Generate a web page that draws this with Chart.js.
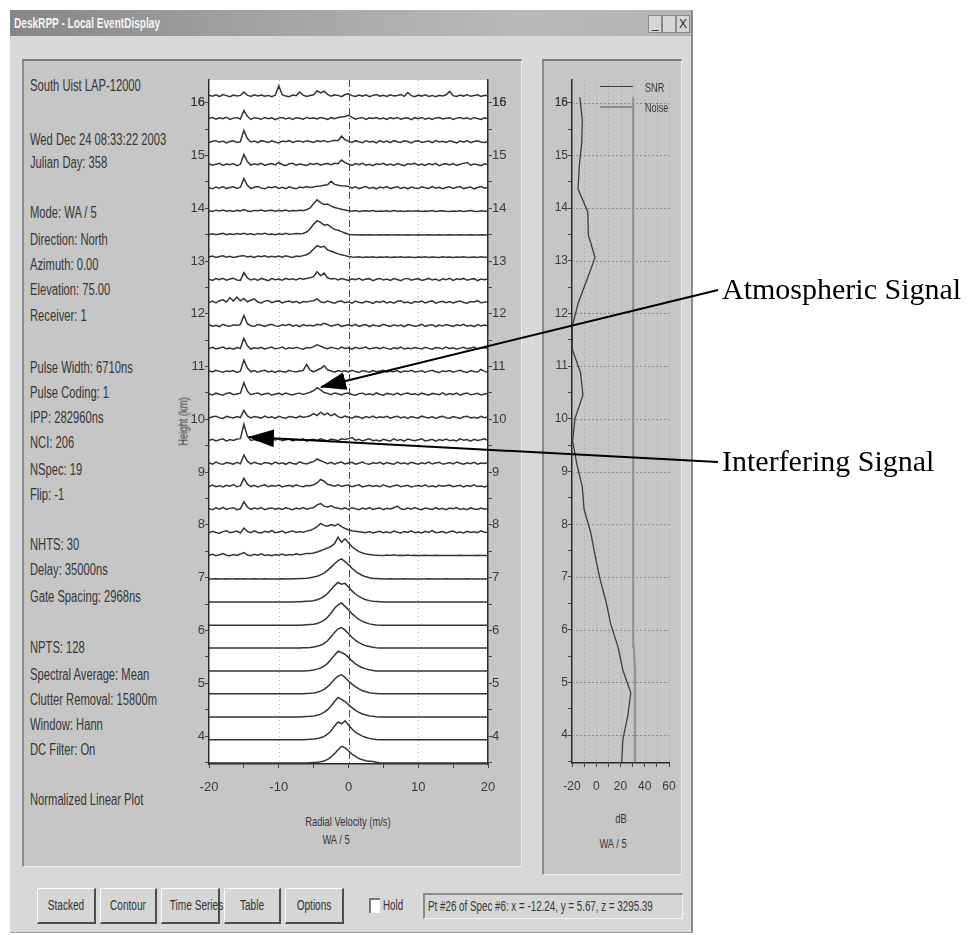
<!DOCTYPE html>
<html>
<head>
<meta charset="utf-8">
<script src="https://cdn.jsdelivr.net/npm/chart.js@4.4.0/dist/chart.umd.min.js"></script>
<style>
body{margin:0;width:980px;height:935px;background:#fff;position:relative;overflow:hidden;font-family:'Liberation Sans',Arial,sans-serif;}
.abs{position:absolute;}
.win{left:10px;top:10px;width:681px;height:922px;background:#d8d8d8;border-right:2px solid #8c8c8c;border-bottom:1px solid #a0a0a0;}
.title{left:10px;top:10px;width:681px;height:26px;background:linear-gradient(to right,#868686,#a2a2a2 35%,#bababa 75%,#b4b4b4);}
.title span{position:absolute;left:4px;top:5px;color:#f4f4f4;font-size:14px;font-weight:bold;white-space:nowrap;transform:scaleX(.72);transform-origin:0 50%;}
.ctl{top:15px;width:12px;height:16px;background:#d6d6d6;border:1px solid #8a8a8a;font-size:12px;line-height:16px;text-align:center;color:#222;}
.panel{background:#c6c6c6;border-top:2px solid #7c7c7c;border-left:2px solid #8a8a8a;border-right:1px solid #efefef;border-bottom:1px solid #efefef;box-sizing:border-box;}
.t{position:absolute;white-space:nowrap;color:#363636;font-size:16px;line-height:18px;transform:scaleX(.7);transform-origin:0 50%;}
.c{position:absolute;white-space:nowrap;color:#363636;text-align:center;transform:scaleX(.72);transform-origin:50% 50%;}
.btn{position:absolute;top:888px;height:36px;background:#d6d6d6;border-top:1px solid #fbfbfb;border-left:1px solid #fbfbfb;border-right:2px solid #4e4e4e;border-bottom:2px solid #4e4e4e;box-sizing:border-box;}
.btn span{display:block;text-align:center;line-height:33px;font-size:14px;color:#333;white-space:nowrap;transform:scaleX(.72);}
canvas{position:absolute;}
.note{position:absolute;font-family:'Liberation Serif','Times New Roman',serif;font-size:30px;color:#000;white-space:nowrap;}
</style>
</head>
<body>
<div class="abs win"></div>
<div class="abs title"><span>DeskRPP - Local EventDisplay</span></div>
<div class="abs ctl" style="left:648px">_</div>
<div class="abs ctl" style="left:662px"></div>
<div class="abs ctl" style="left:676px">X</div>

<div class="abs panel" style="left:22px;top:59px;width:500px;height:808px"></div>
<div class="abs panel" style="left:542px;top:59px;width:140px;height:816px"></div>

<div class="t" style="left:30px;top:77px">South Uist LAP-12000</div>
<div class="t" style="left:30px;top:131px">Wed Dec 24 08:33:22 2003</div>
<div class="t" style="left:30px;top:154px">Julian Day: 358</div>
<div class="t" style="left:30px;top:204px">Mode: WA / 5</div>
<div class="t" style="left:30px;top:231px">Direction: North</div>
<div class="t" style="left:30px;top:256px">Azimuth: 0.00</div>
<div class="t" style="left:30px;top:281px">Elevation: 75.00</div>
<div class="t" style="left:30px;top:307px">Receiver: 1</div>
<div class="t" style="left:30px;top:359px">Pulse Width: 6710ns</div>
<div class="t" style="left:30px;top:384px">Pulse Coding: 1</div>
<div class="t" style="left:30px;top:409px">IPP: 282960ns</div>
<div class="t" style="left:30px;top:434px">NCI: 206</div>
<div class="t" style="left:30px;top:461px">NSpec: 19</div>
<div class="t" style="left:30px;top:486px">Flip: -1</div>
<div class="t" style="left:30px;top:536px">NHTS: 30</div>
<div class="t" style="left:30px;top:561px">Delay: 35000ns</div>
<div class="t" style="left:30px;top:588px">Gate Spacing: 2968ns</div>
<div class="t" style="left:30px;top:639px">NPTS: 128</div>
<div class="t" style="left:30px;top:666px">Spectral Average: Mean</div>
<div class="t" style="left:30px;top:691px">Clutter Removal: 15800m</div>
<div class="t" style="left:30px;top:716px">Window: Hann</div>
<div class="t" style="left:30px;top:741px">DC Filter: On</div>
<div class="t" style="left:30px;top:791px">Normalized Linear Plot</div>

<canvas id="stack" width="340" height="730" style="left:170px;top:70px"></canvas>
<canvas id="snr" width="150" height="730" style="left:540px;top:70px"></canvas>

<div class="c" style="left:123px;top:414px;width:120px;font-size:13px;transform:rotate(-90deg) scaleX(.72)">Height (km)</div>
<div class="c" style="left:248px;top:814px;width:200px;font-size:13px">Radial Velocity (m/s)</div>
<div class="c" style="left:286px;top:832px;width:100px;font-size:13px">WA / 5</div>
<div class="c" style="left:571px;top:811px;width:100px;font-size:13px">dB</div>
<div class="c" style="left:563px;top:836px;width:100px;font-size:13px">WA / 5</div>

<div class="abs" style="left:600px;top:86px;width:33px;border-top:1.5px solid #3c3c3c"></div>
<div class="abs" style="left:600px;top:106px;width:33px;border-top:2px solid #8c8c8c"></div>
<div class="t" style="left:645px;top:79px;font-size:13px">SNR</div>
<div class="t" style="left:645px;top:99px;font-size:13px">Noise</div>

<div class="btn" style="left:37px;width:59px"><span>Stacked</span></div>
<div class="btn" style="left:100px;width:57px"><span>Contour</span></div>
<div class="btn" style="left:161px;width:59px"><span>Time Series</span></div>
<div class="btn" style="left:224px;width:57px"><span>Table</span></div>
<div class="btn" style="left:285px;width:59px"><span>Options</span></div>
<div class="abs" style="left:369px;top:898px;width:9px;height:13px;background:#fff;border-top:2px solid #777;border-left:2px solid #777"></div>
<div class="t" style="left:383px;top:896px;font-size:14px">Hold</div>
<div class="abs" style="left:423px;top:893px;width:260px;height:26px;background:#d6d6d6;border-top:2px solid #8a8a8a;border-left:2px solid #8a8a8a;border-right:1px solid #f4f4f4;border-bottom:1px solid #f4f4f4;box-sizing:border-box"></div>
<div class="t" style="left:428px;top:897px;font-size:14px">Pt #26 of Spec #6: x = -12.24, y = 5.67, z = 3295.39</div>

<svg class="abs" style="left:0;top:0" width="980" height="935">
  <defs>
    <marker id="head" markerUnits="userSpaceOnUse" markerWidth="26" markerHeight="18" refX="25" refY="9" orient="auto">
      <path d="M0,0 L26,9 L0,18 z" fill="#000"/>
    </marker>
  </defs>
  <line x1="718" y1="290" x2="321" y2="387" stroke="#000" stroke-width="2" marker-end="url(#head)"/>
  <line x1="718" y1="462" x2="249" y2="437" stroke="#000" stroke-width="2" marker-end="url(#head)"/>
</svg>
<div class="note" style="left:722px;top:272px">Atmospheric Signal</div>
<div class="note" style="left:722px;top:444px">Interfering Signal</div>

<script>
// radial velocity bins (m/s)
const velocities = [-20,-19.5,-19,-18.5,-18,-17.5,-17,-16.5,-16,-15.5,
  -15,-14.5,-14,-13.5,-13,-12.5,-12,-11.5,-11,-10.5,
  -10,-9.5,-9,-8.5,-8,-7.5,-7,-6.5,-6,-5.5,
  -5,-4.5,-4,-3.5,-3,-2.5,-2,-1.5,-1,-0.5,
  0,0.5,1,1.5,2,2.5,3,3.5,4,4.5,
  5,5.5,6,6.5,7,7.5,8,8.5,9,9.5,
  10,10.5,11,11.5,12,12.5,13,13.5,14,14.5,
  15,15.5,16,16.5,17,17.5,18,18.5,19,19.5,20];

// range gate heights (km), lowest first
const gateHeights = [3.49,3.93,4.36,4.80,5.23,5.67,6.10,6.54,6.97,7.41,
  7.84,8.28,8.71,9.14,9.58,10.01,10.45,10.88,11.32,11.75,
  12.19,12.62,13.06,13.49,13.93,14.36,14.80,15.23,15.67,16.10];

// normalized spectral power per gate (% of peak), one row per gate, lowest first
const spectra = [
 [0,0,0,0,0,0,0,0,0,0, 0,0,0,0,0,0,0,0,0,0, 0,0,0,0,0,0,0,0,0,1, 2,3,5,9,16,27,42,60,75,68, 55,40,30,20,14,10,8,6,3,1, 0,0,0,0,0,0,0,0,0,0, 0,0,0,0,0,0,0,0,0,0, 0,0,0,0,0,0,0,0,0,0, 0],
 [0,0,0,0,0,0,0,0,0,0, 0,0,0,0,0,0,0,0,0,0, 0,0,0,0,0,0,0,0,1,2, 3,5,9,15,25,40,62,80,72,85, 66,48,34,24,16,10,6,3,1,0, 0,0,0,0,0,0,0,0,0,0, 0,0,0,0,0,0,0,0,0,0, 0,0,0,0,0,0,0,0,0,0, 0],
 [0,0,0,0,0,0,0,0,0,0, 0,0,0,0,0,0,0,0,0,0, 0,0,0,0,0,0,0,1,2,3, 5,8,13,21,33,50,70,88,80,70, 56,42,30,21,14,9,5,3,1,0, 0,0,0,0,0,0,0,0,0,0, 0,0,0,0,0,0,0,0,0,0, 0,0,0,0,0,0,0,0,0,0, 0],
 [0,0,0,0,0,0,0,0,0,0, 0,0,0,0,0,0,0,0,0,0, 0,0,0,0,0,0,0,0,1,2, 4,7,12,20,32,48,66,80,86,74, 58,44,32,22,14,9,5,2,1,0, 0,0,0,0,0,0,0,0,0,0, 0,0,0,0,0,0,0,0,0,0, 0,0,0,0,0,0,0,0,0,0, 0],
 [0,0,0,0,0,0,0,0,0,0, 0,0,0,0,0,0,0,0,0,0, 0,0,0,0,0,0,0,1,2,3, 5,9,14,22,35,52,72,90,84,76, 62,46,33,23,15,10,6,3,1,0, 0,0,0,0,0,0,0,0,0,0, 0,0,0,0,0,0,0,0,0,0, 0,0,0,0,0,0,0,0,0,0, 0],
 [0,0,0,0,0,0,0,0,0,0, 0,0,0,0,0,0,0,0,0,0, 0,0,0,0,0,0,0,1,1,2, 4,7,12,20,32,50,70,86,92,80, 64,48,34,24,16,10,6,3,1,0, 0,0,0,0,0,0,0,0,0,0, 0,0,0,0,0,0,0,0,0,0, 0,0,0,0,0,0,0,0,0,0, 0],
 [0,0,0,0,0,0,0,0,0,0, 0,0,0,0,0,0,0,0,0,0, 0,0,0,0,0,0,0,1,2,3, 4,8,14,23,36,55,76,92,100,85, 70,52,38,26,17,11,6,3,1,0, 0,0,0,0,0,0,0,0,0,0, 0,0,0,0,0,0,0,0,0,0, 0,0,0,0,0,0,0,0,0,0, 0],
 [0,0,0,0,0,0,0,0,0,0, 0,0,0,0,0,0,0,0,0,0, 0,0,0,0,0,1,1,2,3,4, 6,10,16,25,38,56,74,88,80,84, 68,50,36,25,16,10,6,3,2,1, 0,0,0,0,0,0,0,0,0,0, 0,0,0,0,0,0,0,0,0,0, 0,0,0,0,0,0,0,0,0,0, 0],
 [1,1,2,1,1,2,1,1,2,1, 2,1,1,2,1,1,2,1,1,1, 1,2,1,1,2,2,3,4,5,7, 10,14,20,28,40,55,70,84,92,80, 66,50,36,26,17,11,7,4,3,2, 1,1,2,1,1,1,2,1,1,1, 1,1,1,2,1,1,1,1,2,1, 1,1,1,1,2,1,1,1,1,1, 1],
 [3,8,2,6,11,4,2,7,3,9, 16,5,2,8,4,10,3,6,2,7, 4,9,3,7,5,10,6,8,12,11, 14,18,24,30,36,44,56,85,62,78, 60,42,30,20,14,9,7,5,4,3, 2,5,3,6,2,4,3,5,2,4, 3,2,4,3,2,4,3,2,3,2, 3,2,4,2,3,2,3,4,2,3, 3],
 [2,9,4,1,8,12,3,6,10,2, 24,9,3,11,4,2,9,5,12,3, 6,10,2,7,11,4,8,5,10,14, 20,30,45,36,32,40,34,42,30,22, 16,12,9,7,5,3,8,2,6,9, 3,7,2,10,5,2,8,4,11,3, 6,2,9,4,12,3,5,8,2,7, 10,3,6,2,9,4,7,3,11,5, 4],
 [7,2,10,4,13,3,8,11,2,6, 38,14,3,9,5,12,2,7,10,4, 8,3,11,6,2,9,5,12,4,8, 12,24,30,18,14,20,12,9,5,10, 3,11,6,2,9,4,12,3,7,10, 2,8,5,11,18,6,3,9,4,12, 5,2,10,6,3,11,4,8,2,9, 6,12,3,7,2,10,5,3,9,4, 7],
 [4,11,3,8,2,10,6,13,3,7, 42,15,4,10,2,8,12,3,9,5, 11,2,7,10,4,12,6,3,9,8, 12,20,36,28,14,10,6,12,4,9, 11,3,8,12,2,7,10,4,9,3, 12,5,2,8,11,3,7,10,2,6, 9,4,12,3,7,2,10,5,8,11, 3,7,10,2,9,5,12,4,6,2, 8],
 [9,3,12,5,2,10,7,3,11,4, 44,16,4,11,6,2,10,8,3,12, 5,9,2,11,6,3,13,7,4,10, 14,26,18,12,5,11,3,9,12,4, 8,11,3,7,12,5,2,9,6,11, 3,10,6,2,12,5,9,3,11,7, 2,9,5,12,4,8,11,3,6,10, 4,12,7,2,9,5,11,3,8,6, 10],
 [6,10,3,8,12,2,9,5,11,13, 78,24,5,9,3,11,6,2,10,7, 12,4,8,11,3,9,6,12,2,8, 10,5,12,7,3,11,8,4,12,9, 13,18,6,10,3,8,12,4,7,2, 10,6,3,12,5,9,2,11,7,4, 8,12,3,6,10,2,9,5,11,4, 7,3,12,6,9,2,10,5,8,12, 4],
 [3,9,12,5,2,11,7,4,10,6, 38,13,4,10,7,3,12,5,9,2, 11,6,3,10,8,4,12,7,9,14, 24,15,30,18,26,14,22,10,5,12, 7,3,11,8,2,10,5,12,4,9, 6,11,3,8,12,4,9,2,10,6, 3,12,7,4,10,2,8,11,5,3, 10,6,2,9,12,4,7,3,11,5, 8],
 [8,3,11,6,2,10,13,4,7,11, 58,20,4,9,12,3,8,11,2,7, 10,4,12,6,3,9,11,5,10,15, 22,36,26,14,10,4,12,8,3,10, 12,5,2,9,11,4,8,3,12,6, 2,10,7,4,11,3,9,12,5,8, 3,11,6,2,10,7,4,12,3,9, 5,11,2,8,12,4,6,10,3,7, 10],
 [10,4,12,7,3,9,6,11,2,8, 58,22,5,11,3,9,12,4,8,2, 10,6,3,12,7,4,9,11,38,12, 5,13,20,32,14,9,3,11,7,10, 4,12,6,2,10,8,3,11,5,9, 12,3,8,5,11,2,9,6,12,4, 7,10,3,8,12,5,2,9,6,11, 3,8,12,5,2,10,6,4,16,7, 3],
 [5,11,3,8,12,4,7,2,10,6, 52,18,3,9,6,11,2,8,12,4, 7,12,3,9,5,11,6,2,10,8, 14,22,16,9,4,11,7,3,12,6, 9,2,11,5,8,12,3,7,10,4, 11,6,2,9,5,12,3,8,4,10, 7,3,11,6,2,10,8,4,12,5, 9,2,7,11,4,8,12,3,6,10, 5],
 [11,4,8,2,12,6,3,10,7,12, 52,15,6,3,11,8,2,9,12,5, 3,10,7,12,4,9,2,11,6,8, 5,12,9,17,11,4,8,12,3,7, 10,5,12,3,8,11,2,9,6,4, 12,7,3,10,5,9,2,11,8,4, 6,12,3,8,10,2,9,5,11,7, 3,10,6,12,4,8,2,11,5,9, 6],
 [6,12,4,14,18,8,28,12,30,14, 24,9,16,22,8,4,12,15,5,10, 13,4,9,12,6,11,3,10,8,12, 14,22,9,5,12,7,3,10,12,5, 9,3,12,7,4,11,8,2,10,6, 12,4,9,3,11,14,5,8,2,10, 7,12,4,9,13,3,8,11,5,10, 4,9,12,6,3,10,8,14,5,7, 10],
 [8,3,11,6,12,4,9,13,5,3, 38,14,5,10,3,12,7,2,11,6, 9,4,12,7,10,5,13,8,12,15, 20,42,24,36,15,9,12,5,11,7, 3,10,6,12,4,9,11,2,8,12, 5,9,3,11,7,2,10,12,4,8, 11,3,7,12,5,9,2,10,6,12, 3,10,7,12,4,8,11,2,9,6, 10],
 [4,8,2,6,9,3,7,2,5,8, 10,4,7,2,8,5,9,3,7,4, 8,3,9,5,2,8,6,10,14,24, 40,55,48,52,36,30,24,18,14,10, 6,4,3,5,2,4,3,5,2,4, 3,5,2,4,3,5,2,4,3,2, 4,3,5,2,4,3,2,5,3,4, 2,4,3,5,2,3,4,2,5,3, 3],
 [3,6,2,5,8,2,6,3,7,4, 8,3,6,2,7,4,9,3,5,2, 6,3,8,4,5,7,6,8,14,28, 50,65,58,45,48,36,26,22,16,10, 4,2,2,1,2,1,2,1,1,2, 1,2,1,1,2,1,1,2,1,1, 2,1,1,2,1,1,2,1,1,2, 1,1,2,1,1,2,1,1,2,1, 1],
 [5,2,8,4,9,3,6,2,7,4, 11,4,2,7,5,9,3,6,8,3, 7,4,9,3,6,5,8,7,10,18, 38,55,42,34,36,26,20,16,12,9, 5,3,6,2,4,5,3,6,2,4, 3,5,2,6,3,4,2,5,3,4, 5,2,4,3,6,2,4,5,3,2, 4,3,5,2,4,6,3,2,5,3, 4],
 [7,2,10,5,12,3,8,11,4,9, 48,18,3,9,12,5,2,10,7,12, 4,9,3,11,6,2,10,7,12,8, 10,14,15,18,20,36,22,18,16,15, 13,5,11,3,8,12,4,9,2,10, 6,12,3,8,11,4,9,2,10,6, 3,11,7,4,12,5,9,2,8,11, 4,9,12,3,7,10,2,8,12,5, 8],
 [10,4,8,12,3,9,6,11,2,8, 52,20,4,10,6,12,3,8,11,5, 16,7,2,10,12,4,9,6,3,11, 7,12,4,9,11,6,12,10,27,15, 9,3,11,6,12,4,8,2,10,7, 12,4,9,3,11,6,2,10,8,12, 4,9,3,11,6,12,2,8,10,5, 11,3,8,12,16,4,9,6,2,10, 6],
 [3,9,12,5,10,2,8,11,4,7, 58,22,6,10,3,12,8,4,11,6, 2,10,7,12,4,9,11,5,12,8, 4,11,8,12,6,10,14,12,32,16, 10,4,12,7,3,11,6,9,2,12, 5,10,3,12,7,4,11,8,2,9, 12,4,7,10,3,12,6,9,4,11, 7,2,10,5,12,3,8,11,6,4, 9],
 [8,12,4,10,6,13,3,9,11,5, 44,17,3,11,8,4,12,6,10,2, 9,12,5,10,3,11,8,4,12,7, 10,5,12,8,3,11,6,12,14,16, 22,12,4,9,11,3,10,7,12,5, 9,3,11,6,12,4,8,10,2,11, 6,12,4,9,3,10,12,5,8,11, 3,9,12,6,10,4,11,7,3,10, 6],
 [10,5,12,4,13,8,3,11,6,9, 24,10,4,12,7,11,5,9,3,10, 52,12,6,3,11,8,24,10,4,9, 12,30,20,28,14,6,12,9,3,13, 16,8,4,11,6,12,3,9,13,6, 10,4,12,7,9,13,5,22,8,3, 11,6,12,4,9,3,10,7,12,27, 8,4,11,6,13,5,9,12,4,10, 7]
];

// signal-to-noise ratio and noise level per gate (dB), lowest first
const snrDb = [21,22,26,28.5,22,18,12,8,3,-1,
  -4.5,-10,-11.5,-16,-19.5,-17.5,-11,-13,-19.8,-19.8,
  -15,-8,-1,-6.5,-7,-15,-14,-12,-11.5,-13.5];
const noiseDb = [32,32,32,32,32,31,30.5,30.5,30.5,30.5,
  30.5,30.5,30.5,30.5,30.5,30.5,30.5,30.5,30.5,30.5,
  30.5,30.5,30.5,30.5,30.5,30.5,30.5,30.5,30.5,30.5];

const heightTicks = [4,5,6,7,8,9,10,11,12,13,14,15,16];
const heightMinorTicks = [3.5,4.5,5.5,6.5,7.5,8.5,9.5,10.5,11.5,12.5,13.5,14.5,15.5,16];
const velocityTicks = [-20,-15,-10,-5,0,5,10,15,20];
const velocityGrid = [-10,10];
const dbTicks = [-20,-10,0,10,20,30,40,50,60];

const AMP = 0.42; // km of plot height for 100 % normalized power
const Y_MIN = 3.47, Y_MAX = 16.43;
const tickFont = { family: "'Liberation Sans', Arial, sans-serif", size: 13 };
const ink = '#3a3a3a';

const allHeightTicks = heightTicks.concat(heightMinorTicks).sort((a, b) => a - b);
const heightAxis = (pos, width) => ({
  type: 'linear', position: pos, min: Y_MIN, max: Y_MAX,
  afterBuildTicks: s => { s.ticks = allHeightTicks.map(v => ({ value: v })); },
  afterFit: s => { s.width = width; },
  grid: { drawOnChartArea: false, tickLength: 4, color: '#444' },
  border: { color: '#2a2a2a', width: 1.5 },
  ticks: { autoSkip: false, padding: 0, color: ink, font: tickFont,
    callback: v => Number.isInteger(v) ? String(v) : '' }
});

const stackPlugin = {
  id: 'stackBg',
  beforeDraw(chart) {
    const a = chart.chartArea, ctx = chart.ctx;
    ctx.save();
    ctx.fillStyle = '#fff';
    ctx.fillRect(a.left, a.top, a.right - a.left, a.bottom - a.top);
    ctx.restore();
  },
  beforeDatasetsDraw(chart) {
    const a = chart.chartArea, ctx = chart.ctx, x = chart.scales.x;
    ctx.save();
    ctx.lineWidth = 1;
    ctx.strokeStyle = '#b8b8b8';
    ctx.setLineDash([1, 3]);
    velocityGrid.forEach(v => {
      const px = Math.round(x.getPixelForValue(v)) + 0.5;
      ctx.beginPath(); ctx.moveTo(px, a.top); ctx.lineTo(px, a.bottom); ctx.stroke();
    });
    ctx.strokeStyle = '#4a4a4a';
    ctx.setLineDash([7, 3, 1, 3]);
    const p0 = Math.round(x.getPixelForValue(0)) + 0.5;
    ctx.beginPath(); ctx.moveTo(p0, a.top); ctx.lineTo(p0, a.bottom); ctx.stroke();
    ctx.restore();
  }
};

new Chart(document.getElementById('stack'), {
  type: 'line',
  data: {
    datasets: spectra.map((row, g) => ({
      data: row.map((p, k) => ({ x: velocities[k], y: gateHeights[g] + p / 100 * AMP })),
      borderColor: '#353535', borderWidth: 1.5, pointRadius: 0, tension: 0, fill: false
    }))
  },
  options: {
    responsive: false, animation: false, devicePixelRatio: 1,
    layout: { padding: { top: 10, left: 0, right: 0, bottom: 0 } },
    plugins: { legend: { display: false }, tooltip: { enabled: false } },
    scales: {
      x: {
        type: 'linear', min: -20, max: 20,
        afterBuildTicks: s => { s.ticks = velocityTicks.map(v => ({ value: v })); },
        afterFit: s => { s.height = 36; },
        grid: { drawOnChartArea: false, tickLength: 4, color: '#444' },
        border: { color: '#2a2a2a', width: 1.5 },
        ticks: { autoSkip: false, maxRotation: 0, padding: 12, color: ink, font: tickFont,
          callback: v => v % 10 === 0 ? String(v) : '' }
      },
      y: heightAxis('left', 39),
      y2: heightAxis('right', 22)
    }
  },
  plugins: [stackPlugin]
});

const snrPlugin = {
  id: 'snrGrid',
  beforeDatasetsDraw(chart) {
    const a = chart.chartArea, ctx = chart.ctx, x = chart.scales.x, y = chart.scales.y;
    ctx.save();
    ctx.lineWidth = 1;
    ctx.strokeStyle = '#8a8a8a';
    ctx.setLineDash([2, 2]);
    heightTicks.forEach(h => {
      const py = Math.round(y.getPixelForValue(h)) + 0.5;
      ctx.beginPath(); ctx.moveTo(a.left, py); ctx.lineTo(a.right, py); ctx.stroke();
    });
    ctx.strokeStyle = '#a4a4a4';
    ctx.setLineDash([1, 3]);
    dbTicks.slice(1).forEach(d => {
      const px = Math.round(x.getPixelForValue(d)) + 0.5;
      ctx.beginPath(); ctx.moveTo(px, a.top); ctx.lineTo(px, a.bottom); ctx.stroke();
    });
    ctx.restore();
  }
};

new Chart(document.getElementById('snr'), {
  type: 'line',
  data: {
    datasets: [
      { label: 'SNR', data: snrDb.map((d, g) => ({ x: d, y: gateHeights[g] })),
        borderColor: '#3c3c3c', borderWidth: 1.3, pointRadius: 0, tension: 0 },
      { label: 'Noise', data: noiseDb.map((d, g) => ({ x: d, y: gateHeights[g] })),
        borderColor: '#8e8e8e', borderWidth: 2, pointRadius: 0, tension: 0 }
    ]
  },
  options: {
    responsive: false, animation: false, devicePixelRatio: 1,
    layout: { padding: { top: 10, left: 0, right: 21, bottom: 0 } },
    plugins: { legend: { display: false }, tooltip: { enabled: false } },
    scales: {
      x: {
        type: 'linear', min: -20, max: 60,
        afterBuildTicks: s => { s.ticks = dbTicks.map(v => ({ value: v })); },
        afterFit: s => { s.height = 37; },
        grid: { drawOnChartArea: false, tickLength: 4, color: '#444' },
        border: { color: '#2a2a2a', width: 1.5 },
        ticks: { autoSkip: false, maxRotation: 0, padding: 12, color: ink, font: { family: tickFont.family, size: 12 },
          callback: v => v % 20 === 0 ? String(v) : '' }
      },
      y: Object.assign(heightAxis('left', 32), {
        ticks: { autoSkip: false, padding: 0, color: ink, font: { family: tickFont.family, size: 12 },
          callback: v => Number.isInteger(v) ? String(v) : '' }
      })
    }
  },
  plugins: [snrPlugin]
});
</script>
</body>
</html>
